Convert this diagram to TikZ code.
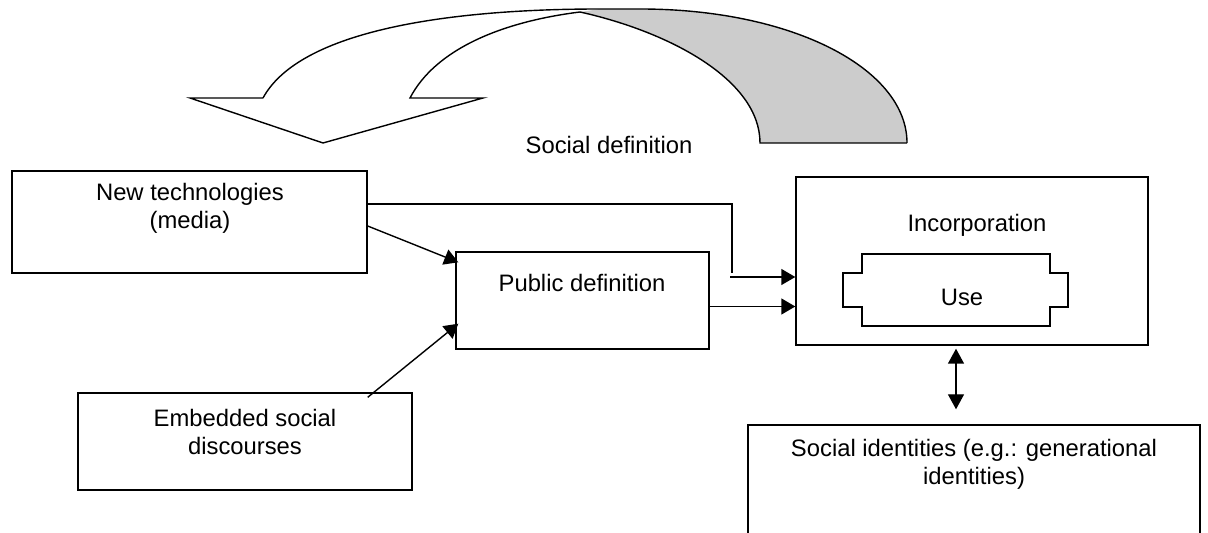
\documentclass[tikz,border=0pt]{standalone}
\usepackage{fontspec}
\setmainfont{Liberation Sans}
\usetikzlibrary{arrows.meta}

\begin{document}
\begin{tikzpicture}[x=0.5pt,y=-0.5pt,
    box/.style={shape=rectangle,draw=black,line width=0.7pt},
    txt/.style={align=center,inner sep=0pt,font=\fontsize{11.9}{14}\selectfont},
    line/.style={draw=black,line width=0.7pt},
    arr/.style={line,-{Triangle[length=7pt,width=8pt]}},
    dbl/.style={line,{Triangle[length=7.5pt,width=8pt]}-{Triangle[length=7.5pt,width=8pt]}}]

    \useasboundingbox (0,0) rectangle (1208,533);
    \clip (0,0) rectangle (1208,533);

    % curved arrow on top
    \fill[black!20] (580,12) .. controls (670,32) and (760,80) .. (760,143) -- (907,143) .. controls (907,69) and (793,9) .. (640,9) -- (600,9) -- cycle;
    \draw[line,line join=miter] (263,98) -- (190,98) -- (323,143) -- (483,98) -- (410,98) .. controls (435,50) and (500,22) .. (580,12) .. controls (670,32) and (760,80) .. (760,143) -- (907,143);
    \draw[line] (263,98) .. controls (300,30) and (450,9) .. (600,9) -- (640,9) .. controls (793,9) and (907,69) .. (907,143);
    \node[txt] (socdef) at (609,145) {Social definition};

    \node[box,minimum width=177.5pt,minimum height=51pt] (newtech) at (189.5,222) {};
    \node[txt] (newtechtext) at (190,208) {New technologies\\(media)};

    \node[box,minimum width=126.5pt,minimum height=48.5pt] (public) at (582.5,300.5) {};
    \node[txt] (publictext) at (582,283) {Public definition};

    \node[box,minimum width=167pt,minimum height=48.5pt] (embedded) at (245,441.5) {};
    \node[txt] (embeddedtext) at (245,432) {Embedded social\\discourses};

    \node[box,minimum width=176pt,minimum height=84pt] (incorp) at (972,261) {};
    \node[txt] (incorptext) at (977,225) {Incorporation};

    % use shape
    \draw[line] (862,254) -- (1050,254) -- (1050,273) -- (1068,273) -- (1068,307) -- (1050,307) -- (1050,326) -- (862,326) -- (862,307) -- (843,307) -- (843,273) -- (862,273) -- cycle;
    \node[txt] (use) at (962,297) {Use};

    \node[box,minimum width=226pt,minimum height=75pt] (identities) at (974,500) {};
    \node[txt] (identitiestext) at (974,464) {Social identities (e.g.: generational\\identities)};

    \coordinate (elbow) at (732,273);
    \coordinate (feed) at (730,277);

    \draw[line] ([yshift=9pt]newtech.east) -| (elbow);
    \draw[arr] (feed) -- (feed -| incorp.west);
    \draw[arr] ([yshift=-2pt]newtech.east) -- ([xshift=1.5pt,yshift=-5.5pt]public.north west);
    \draw[arr] ([xshift=-22.5pt,yshift=-2.5pt]embedded.north east) -- ([xshift=1.5pt,yshift=13pt]public.south west);
    \draw[arr] ([yshift=-3pt]public.east) -- ([yshift=-3pt]public.east -| incorp.west);
    \draw[dbl] ([xshift=-8pt,yshift=-1.5pt]incorp.south) -- ([xshift=-8pt,yshift=7.5pt]incorp.south |- identities.north);

\end{tikzpicture}
\end{document}
